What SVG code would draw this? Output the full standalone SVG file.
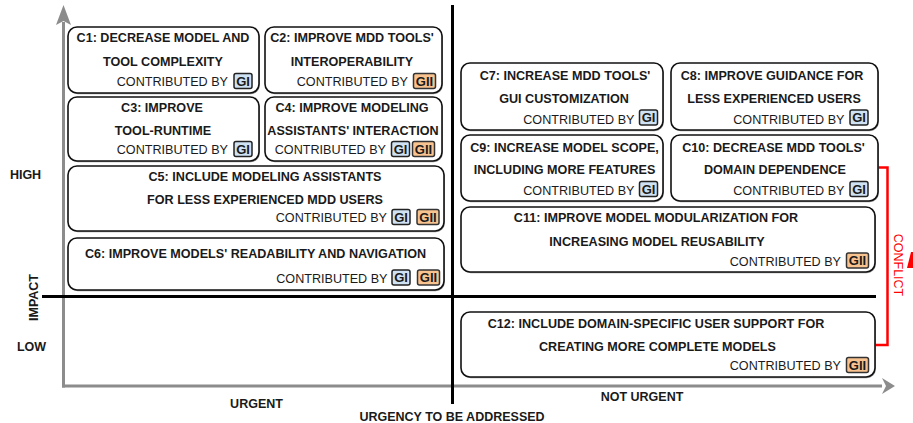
<svg xmlns="http://www.w3.org/2000/svg" width="913" height="423" viewBox="0 0 913 423">
<style>
text{font-family:"Liberation Sans",Arial,sans-serif;fill:#1a1a1a}
.t{font-size:12.6px;font-weight:bold;text-anchor:middle}
.c{font-size:12.6px;text-anchor:end}
.lab{font-size:12.5px;font-weight:bold;text-anchor:middle}
.box{fill:#fff;stroke:#111;stroke-width:1.6}
.sh{fill:#999;stroke:none}
.gi{fill:#cfe2f3;stroke:#222;stroke-width:1.5}
.gii{fill:#f9c38f;stroke:#333;stroke-width:1.5}
.b{font-size:13px;font-weight:bold;text-anchor:middle}
</style>
<rect width="913" height="423" fill="#fff"/>
<g id="axes">
<line x1="63.5" y1="387.5" x2="63.5" y2="22" stroke="#8c8c8c" stroke-width="3"/>
<polygon points="63.5,5 71,25 63.5,21 56,25" fill="#8c8c8c"/>
<line x1="62" y1="386" x2="882" y2="386" stroke="#8c8c8c" stroke-width="3"/>
<polygon points="895,386 882,378 886,386 882,394" fill="#8c8c8c"/>
<line x1="452.5" y1="5" x2="452.5" y2="404" stroke="#000" stroke-width="3"/>
<line x1="42" y1="296.5" x2="876" y2="296.5" stroke="#000" stroke-width="3"/>
<text class="lab" x="25.5" y="178.5">HIGH</text>
<text class="lab" x="31.5" y="350.5">LOW</text>
<text class="lab" transform="translate(37.5,297.5) rotate(-90)">IMPACT</text>
<text class="lab" x="256.5" y="408">URGENT</text>
<text class="lab" x="452" y="420.5">URGENCY TO BE ADDRESSED</text>
<text class="lab" x="642" y="400.5">NOT URGENT</text>
</g>
<g id="connectors">
<polyline points="878,167.5 887.5,167.5 887.5,345 875,345" fill="none" stroke="#ff0000" stroke-width="2.5"/>
<text transform="translate(893.5,265) rotate(90)" style="font-size:12.5px;fill:#ff0000;text-anchor:middle">CONFLICT</text>
<polygon points="907,268 911,252 913,252 913,268" fill="#ff0000"/>
</g>
<g id="C1">
<rect class="sh" x="68.8" y="28.2" width="191" height="66" rx="9"/>
<rect class="box" x="68" y="27" width="191" height="66" rx="9"/>
<text class="t" x="163" y="41.5">C1: DECREASE MODEL AND</text>
<text class="t" x="163" y="65.5">TOOL COMPLEXITY</text>
<text class="c" x="228" y="86">CONTRIBUTED BY</text>
<rect class="gi" x="234" y="73.5" width="18" height="15" rx="2"/><text class="b" x="243" y="85.5">GI</text>
</g>
<g id="C2">
<rect class="sh" x="265.8" y="28.2" width="177" height="66" rx="9"/>
<rect class="box" x="265" y="27" width="177" height="66" rx="9"/>
<text class="t" x="352" y="41.5">C2: IMPROVE MDD TOOLS'</text>
<text class="t" x="352" y="65.5">INTEROPERABILITY</text>
<text class="c" x="408" y="86">CONTRIBUTED BY</text>
<rect class="gii" x="413.5" y="73.5" width="22" height="15" rx="2"/><text class="b" x="424.5" y="85.5">GII</text>
</g>
<g id="C3">
<rect class="sh" x="68.8" y="98.2" width="191" height="64" rx="9"/>
<rect class="box" x="68" y="97" width="191" height="64" rx="9"/>
<text class="t" x="162" y="111.5">C3: IMPROVE</text>
<text class="t" x="163" y="134.5">TOOL-RUNTIME</text>
<text class="c" x="228" y="154">CONTRIBUTED BY</text>
<rect class="gi" x="234" y="141.5" width="18" height="15" rx="2"/><text class="b" x="243" y="153.5">GI</text>
</g>
<g id="C4">
<rect class="sh" x="265.8" y="98.2" width="177" height="64" rx="9"/>
<rect class="box" x="265" y="97" width="177" height="64" rx="9"/>
<text class="t" x="352" y="111.5">C4: IMPROVE MODELING</text>
<text class="t" x="353" y="134.5">ASSISTANTS' INTERACTION</text>
<text class="c" x="386" y="154">CONTRIBUTED BY</text>
<rect class="gi" x="391.5" y="141.5" width="18" height="15" rx="2"/><text class="b" x="400.5" y="153.5">GI</text>
<rect class="gii" x="412.5" y="141.5" width="22" height="15" rx="2"/><text class="b" x="423.5" y="153.5">GII</text>
</g>
<g id="C5">
<rect class="sh" x="68.8" y="167.2" width="376" height="65" rx="9"/>
<rect class="box" x="68" y="166" width="376" height="65" rx="9"/>
<text class="t" x="265" y="180.5">C5: INCLUDE MODELING ASSISTANTS</text>
<text class="t" x="265" y="203.5">FOR LESS EXPERIENCED MDD USERS</text>
<text class="c" x="387" y="222">CONTRIBUTED BY</text>
<rect class="gi" x="392" y="209.5" width="18" height="15" rx="2"/><text class="b" x="401" y="221.5">GI</text>
<rect class="gii" x="417" y="209.5" width="22" height="15" rx="2"/><text class="b" x="428" y="221.5">GII</text>
</g>
<g id="C6">
<rect class="sh" x="68.8" y="239.2" width="376" height="52" rx="9"/>
<rect class="box" x="68" y="238" width="376" height="52" rx="9"/>
<text class="t" x="255.5" y="257.5">C6: IMPROVE MODELS' READABILITY AND NAVIGATION</text>
<text class="c" x="387.5" y="282.5">CONTRIBUTED BY</text>
<rect class="gi" x="392" y="270" width="18" height="15" rx="2"/><text class="b" x="401" y="282">GI</text>
<rect class="gii" x="417.5" y="270" width="22" height="15" rx="2"/><text class="b" x="428.5" y="282">GII</text>
</g>
<g id="C7">
<rect class="sh" x="461.8" y="64.2" width="202" height="67" rx="9"/>
<rect class="box" x="461" y="63" width="202" height="67" rx="9"/>
<text class="t" x="565" y="79.5">C7: INCREASE MDD TOOLS'</text>
<text class="t" x="564" y="102.5">GUI CUSTOMIZATION</text>
<text class="c" x="634.5" y="123.5">CONTRIBUTED BY</text>
<rect class="gi" x="639.5" y="110" width="18" height="15" rx="2"/><text class="b" x="648.5" y="122">GI</text>
</g>
<g id="C8">
<rect class="sh" x="671.8" y="64.2" width="207" height="67" rx="9"/>
<rect class="box" x="671" y="63" width="207" height="67" rx="9"/>
<text class="t" x="772" y="79.5">C8: IMPROVE GUIDANCE FOR</text>
<text class="t" x="774" y="102.5">LESS EXPERIENCED USERS</text>
<text class="c" x="844.5" y="123.5">CONTRIBUTED BY</text>
<rect class="gi" x="850" y="110" width="18" height="15" rx="2"/><text class="b" x="859" y="122">GI</text>
</g>
<g id="C9">
<rect class="sh" x="461.8" y="136.2" width="202" height="66" rx="9"/>
<rect class="box" x="461" y="135" width="202" height="66" rx="9"/>
<text class="t" x="564.5" y="151.5">C9: INCREASE MODEL SCOPE,</text>
<text class="t" x="564.5" y="173.5">INCLUDING MORE FEATURES</text>
<text class="c" x="634.5" y="194.5">CONTRIBUTED BY</text>
<rect class="gi" x="639.5" y="181.5" width="18" height="15" rx="2"/><text class="b" x="648.5" y="193.5">GI</text>
</g>
<g id="C10">
<rect class="sh" x="671.8" y="136.2" width="207" height="66" rx="9"/>
<rect class="box" x="671" y="135" width="207" height="66" rx="9"/>
<text class="t" x="773.5" y="151.5">C10: DECREASE MDD TOOLS'</text>
<text class="t" x="775" y="173.5">DOMAIN DEPENDENCE</text>
<text class="c" x="844.5" y="194.5">CONTRIBUTED BY</text>
<rect class="gi" x="850" y="181.5" width="18" height="15" rx="2"/><text class="b" x="859" y="193.5">GI</text>
</g>
<g id="C11">
<rect class="sh" x="461.8" y="208.2" width="414" height="65" rx="9"/>
<rect class="box" x="461" y="207" width="414" height="65" rx="9"/>
<text class="t" x="656" y="221.5">C11: IMPROVE MODEL MODULARIZATION FOR</text>
<text class="t" x="657" y="245.5">INCREASING MODEL REUSABILITY</text>
<text class="c" x="841" y="265.5">CONTRIBUTED BY</text>
<rect class="gii" x="846.5" y="253" width="22" height="15" rx="2"/><text class="b" x="857.5" y="265">GII</text>
</g>
<g id="C12">
<rect class="sh" x="461.8" y="313.2" width="414" height="65" rx="9"/>
<rect class="box" x="461" y="312" width="414" height="65" rx="9"/>
<text class="t" x="656" y="327.5">C12: INCLUDE DOMAIN-SPECIFIC USER SUPPORT FOR</text>
<text class="t" x="657.5" y="350.5">CREATING MORE COMPLETE MODELS</text>
<text class="c" x="841" y="370">CONTRIBUTED BY</text>
<rect class="gii" x="846.5" y="357.5" width="22" height="15" rx="2"/><text class="b" x="857.5" y="369.5">GII</text>
</g>
</svg>
